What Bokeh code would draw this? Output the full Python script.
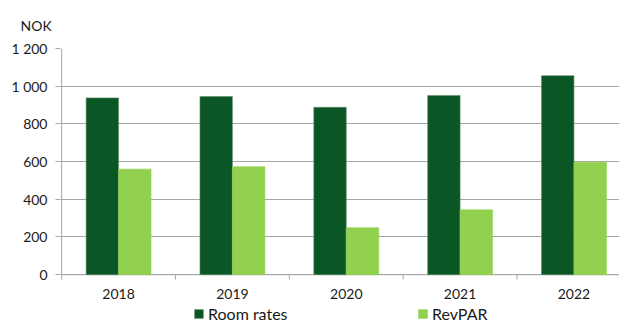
import numpy as np
from bokeh.plotting import figure
from bokeh.models import (ColumnDataSource, Range1d, FixedTicker, Legend, LegendItem)
from bokeh.core.properties import value
from bokeh.embed import file_html
from bokeh.resources import INLINE

# ---- data ----
years = ["2018", "2019", "2020", "2021", "2022"]
room_rates = [938, 945, 888, 951, 1056]
revpar = [560, 573, 249, 344, 597]
y_ticks = [0, 200, 400, 600, 800, 1000, 1200]
y_tick_labels = ["0", "200", "400", "600", "800", "1 000", "1 200"]
unit_label = "NOK"
series_names = ["Room rates", "RevPAR"]

DARK = "#0B5625"
LIGHT = "#92D050"
GRID = "#A6A6A6"
FONT = "Lato"
TXT = "#1a1a1a"

W, H = 619, 327
TOP = 47            # frame top (px)
AXIS_Y = 274        # pixel row of the value 0
Y_MAX = 1200
units_per_px = Y_MAX / (AXIS_Y - TOP)
y_min = -(H - AXIS_Y) * units_per_px
FRAME_LEFT = 60
x_max = 4.9
x_min = -0.01

p = figure(width=W, height=H, output_backend="svg", toolbar_location=None,
           x_range=Range1d(x_min, x_max), y_range=Range1d(y_min, Y_MAX),
           x_axis_location=None,
           min_border_left=FRAME_LEFT, min_border_top=TOP, min_border_bottom=0,
           min_border_right=0)
p.outline_line_color = None
p.background_fill_color = "white"
p.border_fill_color = "white"

# unit label as title, pulled left over the tick labels
p.title.text = unit_label
p.title.align = "left"
p.title.offset = -40
p.title.standoff = 29
p.title.text_font = FONT
p.title.text_font_size = "14px"
p.title.text_font_style = "normal"
p.title.text_color = TXT

n = len(years)
centers = np.arange(n) + 0.5
bounds = np.arange(n + 1)
tick_len = 5 * units_per_px

# grid
p.xgrid.visible = False
p.ygrid.grid_line_color = GRID
p.ygrid.grid_line_width = 1
p.ygrid.ticker = FixedTicker(ticks=y_ticks)

# value axis line and category axis (line, boundary ticks, labels)
p.segment(x0=[0], y0=[0], x1=[0], y1=[Y_MAX], line_color=GRID, line_width=1)
p.segment(x0=[0], y0=[0], x1=[x_max], y1=[0], line_color=GRID, line_width=1)
p.segment(x0=bounds, y0=np.zeros(n + 1), x1=bounds, y1=np.full(n + 1, -tick_len),
          line_color=GRID, line_width=1)
p.text(x=centers, y=np.zeros(n), text=years, y_offset=14,
       text_align="center", text_baseline="top",
       text_font=value(FONT), text_font_size="14px", text_color=TXT)

bw = 0.285
src = ColumnDataSource(dict(x_room=centers - bw / 2, x_rev=centers + bw / 2,
                            room=room_rates, rev=revpar))
r1 = p.vbar(x="x_room", top="room", width=bw, source=src, fill_color=DARK,
            line_color="#5f8f68", line_width=0.6)
r2 = p.vbar(x="x_rev", top="rev", width=bw, source=src, fill_color=LIGHT,
            line_color=LIGHT, line_width=0.6)

# y axis
ya = p.yaxis[0]
ya.ticker = FixedTicker(ticks=y_ticks)
ya.major_label_overrides = {t: l for t, l in zip(y_ticks, y_tick_labels)}
ya.axis_line_color = None
ya.major_tick_line_color = GRID
ya.major_tick_out = 5
ya.major_tick_in = 0
ya.minor_tick_line_color = None
ya.major_label_standoff = 8
ya.major_label_text_font = FONT
ya.major_label_text_font_size = "14px"
ya.major_label_text_color = TXT

# legend inside the (extended) frame, below the category labels
lg = Legend(items=[LegendItem(label=series_names[0], renderers=[r1]),
                   LegendItem(label=series_names[1], renderers=[r2])],
            location=(193 - FRAME_LEFT, 4),
            orientation="horizontal", padding=0, margin=0, spacing=10,
            glyph_width=11, glyph_height=11, label_height=11, label_width=199,
            label_standoff=4, border_line_color=None,
            background_fill_alpha=0,
            label_text_font=FONT, label_text_font_size="16px",
            label_text_color=TXT)
p.add_layout(lg, "center")

open("out.html", "w").write(file_html(p, INLINE))
